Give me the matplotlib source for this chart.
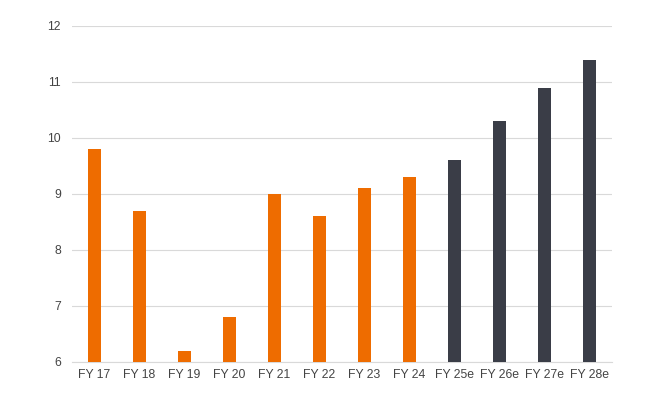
import matplotlib
matplotlib.use("Agg")
import matplotlib.pyplot as plt

# Data
years = ["FY 17", "FY 18", "FY 19", "FY 20", "FY 21", "FY 22",
         "FY 23", "FY 24", "FY 25e", "FY 26e", "FY 27e", "FY 28e"]
values = [9.8, 8.7, 6.2, 6.8, 9.0, 8.6, 9.1, 9.3, 9.6, 10.3, 10.9, 11.4]
is_estimate = [False] * 8 + [True] * 4

ACTUAL_COLOR = "#EE6C00"
ESTIMATE_COLOR = "#3A3D47"
GRID_COLOR = "#D9D9D9"
TEXT_COLOR = "#444444"

plt.rcParams["font.family"] = ["Liberation Sans", "DejaVu Sans"]

fig = plt.figure(figsize=(6.52, 3.97), dpi=100)
ax = fig.add_axes([72 / 652, 1 - 362 / 397, 540 / 652, 336 / 397])

colors = [ESTIMATE_COLOR if e else ACTUAL_COLOR for e in is_estimate]
x = range(len(years))
ax.bar(x, [v - 6 for v in values], bottom=6, width=0.31, color=colors, zorder=3)

ax.set_xlim(-0.5, len(years) - 0.5)
ax.set_ylim(6, 12)
ax.set_yticks(range(6, 13))
ax.set_xticks(list(x))
ax.set_xticklabels(years)

ax.grid(axis="y", color=GRID_COLOR, linewidth=0.8, zorder=0)
for side in ["top", "right", "left"]:
    ax.spines[side].set_visible(False)
ax.spines["bottom"].set_color(GRID_COLOR)
ax.spines["bottom"].set_linewidth(0.8)

ax.tick_params(axis="both", length=0, labelsize=8.8, colors=TEXT_COLOR)
ax.tick_params(axis="y", pad=8)
ax.tick_params(axis="x", pad=5)

fig.savefig("out.png", dpi=100)
